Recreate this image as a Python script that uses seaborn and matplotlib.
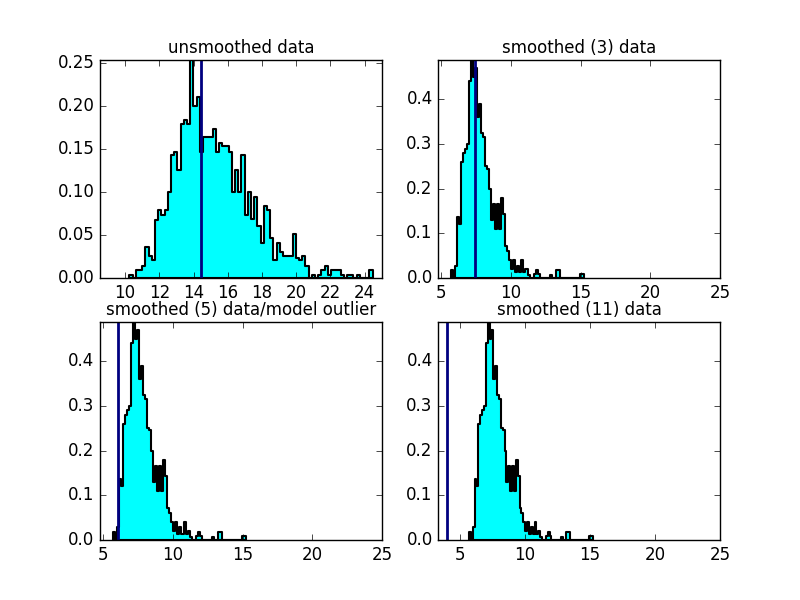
import numpy as np
import pandas as pd
import matplotlib
matplotlib.use("Agg")
import matplotlib.pyplot as plt
import seaborn as sns

# unsmoothed data: normalized histogram
raw_start = 10.25
raw_width = 0.187
raw_heights = [
    0.004, 0.0, 0.010, 0.010, 0.014, 0.036, 0.026, 0.021, 0.068, 0.079,
    0.073, 0.079, 0.100, 0.143, 0.147, 0.126, 0.179, 0.184, 0.179, 0.300,
    0.201, 0.211, 0.147, 0.164, 0.164, 0.164, 0.174, 0.147, 0.157, 0.154,
    0.154, 0.147, 0.100, 0.126, 0.100, 0.143, 0.073, 0.100, 0.069, 0.094,
    0.061, 0.041, 0.084, 0.079, 0.047, 0.021, 0.041, 0.030, 0.026, 0.026,
    0.026, 0.052, 0.024, 0.021, 0.026, 0.014, 0.0, 0.004, 0.0, 0.004,
    0.010, 0.014, 0.004, 0.010, 0.010, 0.010, 0.004, 0.0, 0.004, 0.004,
    0.0, 0.004, 0.0, 0.0, 0.0, 0.010,
]

# smoothed data: same histogram in the three smoothed panels
smooth_start = 5.71
smooth_width = 0.144
smooth_heights = [
    0.018, 0.0, 0.028, 0.136, 0.121, 0.260, 0.280, 0.290, 0.300, 0.440,
    0.500, 0.450, 0.470, 0.360, 0.390, 0.325, 0.315, 0.250, 0.245, 0.200,
    0.130, 0.165, 0.110, 0.165, 0.110, 0.180, 0.144, 0.072, 0.060, 0.040,
    0.020, 0.040, 0.013, 0.028, 0.013, 0.040, 0.013, 0.020, 0.007, 0.0,
    0.0, 0.009, 0.018, 0.009, 0.0, 0.0, 0.0, 0.0, 0.0, 0.007,
    0.0, 0.0, 0.018, 0.018, 0.0, 0.0, 0.0, 0.0, 0.0, 0.0,
    0.0, 0.0, 0.0, 0.0, 0.009, 0.009,
]

titles = ["unsmoothed data", "smoothed (3) data",
          "smoothed (5) data/model outlier", "smoothed (11) data"]
marker_x = [14.43, 7.41, 6.07, 4.03]
x_limits = [(8.53, 25), (4.77, 25), (4.75, 25), (3.35, 25)]


def bin_table(start, width, heights):
    edges = start + width * np.arange(len(heights) + 1)
    df = pd.DataFrame({
        "x": (edges[:-1] + edges[1:]) / 2,
        "density": heights,
    })
    return edges.tolist(), df


plt.style.use("classic")
fig, axes = plt.subplots(2, 2, figsize=(8, 6), dpi=100)
axes = axes.ravel()

for i, ax in enumerate(axes):
    if i == 0:
        edges, df = bin_table(raw_start, raw_width, raw_heights)
    else:
        edges, df = bin_table(smooth_start, smooth_width, smooth_heights)

    sns.histplot(data=df, x="x", weights="density", bins=edges,
                 element="step", fill=True, color="cyan",
                 edgecolor="black", linewidth=1.5, alpha=1, ax=ax)
    ax.axvline(marker_x[i], color="navy", lw=2)

    ax.set_xlim(*x_limits[i])
    if i == 0:
        ax.set_ylim(0, 0.254)
        ax.set_xticks(np.arange(10, 25, 2))
        ax.set_yticks(np.arange(0, 0.26, 0.05))
    else:
        ax.set_ylim(0, 0.488)
        ax.set_xticks([5, 10, 15, 20, 25])
        ax.set_yticks([0.0, 0.1, 0.2, 0.3, 0.4])
    ax.set_xlabel("")
    ax.set_ylabel("")
    ax.set_title(titles[i], fontsize=12)

fig.savefig("out.png", dpi=100)
